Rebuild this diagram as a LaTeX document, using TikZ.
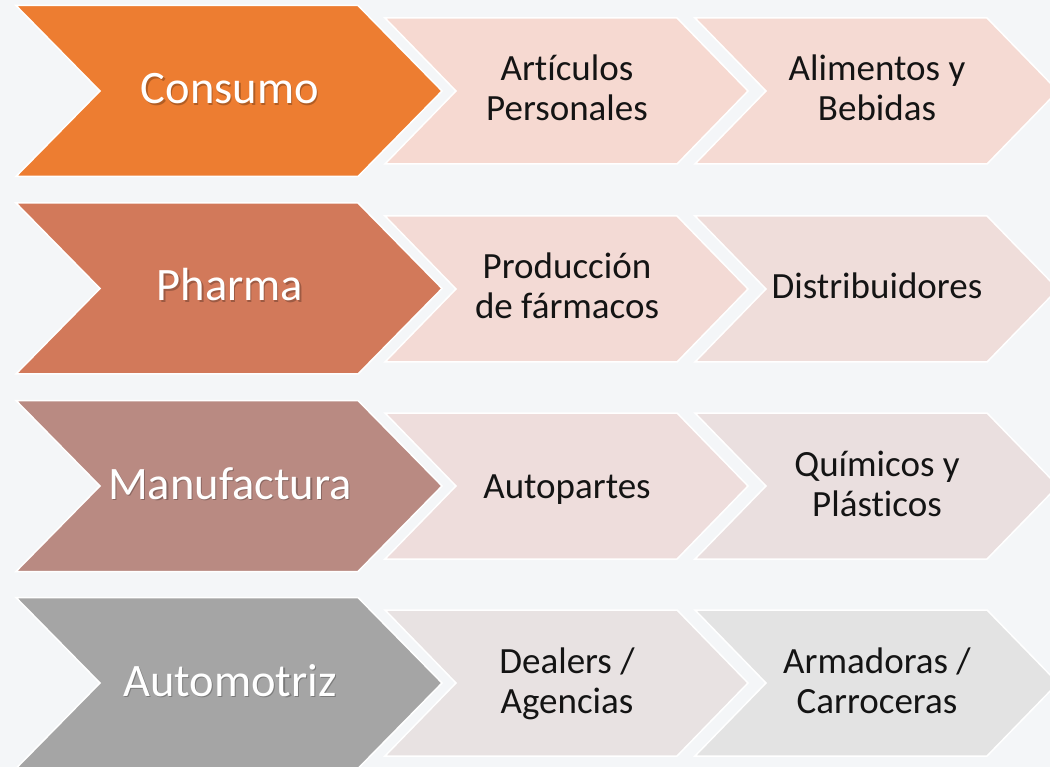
\documentclass[tikz,border=0pt]{standalone}
\usepackage{fontspec}
\setmainfont{Carlito}[Ligatures=NoCommon]
\definecolor{bgc}{HTML}{F4F6F8}
\definecolor{cA}{HTML}{ED7D31}
\definecolor{cB}{HTML}{D2795A}
\definecolor{cC}{HTML}{B98A82}
\definecolor{cD}{HTML}{A5A5A5}
\definecolor{sA1}{HTML}{F6D9D1}
\definecolor{sA2}{HTML}{F5DAD3}
\definecolor{sB1}{HTML}{F3DAD5}
\definecolor{sB2}{HTML}{EFDDDA}
\definecolor{sC1}{HTML}{EEDDDC}
\definecolor{sC2}{HTML}{EADFDF}
\definecolor{sD1}{HTML}{E8E2E2}
\definecolor{sD2}{HTML}{E3E3E3}
\newcommand\chevshape[6]{%
  \fill[#6, draw=white, line width=1.5pt, line join=miter]
    (#1,#2) -- ++(#3,0) -- ++(#5,#4/2) -- ++(-#5,#4/2) -- ++(-#3,0) -- ++(#5,-#4/2) -- cycle;}
\tikzset{
  bigtxt/.style={text=white, font=\fontsize{46.5}{50}\selectfont, inner sep=0pt, anchor=base},
  bigshade/.style={text=black, opacity=0.25, font=\fontsize{46.5}{50}\selectfont, inner sep=0pt, anchor=base},
  smalltxt/.style={text=black!92, font=\fontsize{37}{40}\selectfont, align=center, inner sep=0pt, anchor=base}
}
\begin{document}
\begin{tikzpicture}[x=1pt,y=-1pt]
\useasboundingbox (0,0) rectangle (1050,767);
\clip (0,0) rectangle (1050,767);
\fill[bgc] (0,0) rectangle (1050,767);
% row 1
\chevshape{16}{5.5}{342}{171}{84}{cA}
\chevshape{385}{18}{292}{146}{71}{sA1}
\chevshape{695}{18}{292}{146}{71}{sA2}
% row 2
\chevshape{16}{203}{342}{171}{84}{cB}
\chevshape{385}{216}{292}{146}{71}{sB1}
\chevshape{695}{216}{292}{146}{71}{sB2}
% row 3
\chevshape{16}{400.5}{342}{171}{84}{cC}
\chevshape{385}{413}{292}{146}{71}{sC1}
\chevshape{695}{413}{292}{146}{71}{sC2}
% row 4
\chevshape{16}{597.5}{342}{171}{84}{cD}
\chevshape{385}{610}{292}{146}{71}{sD1}
\chevshape{695}{610}{292}{146}{71}{sD2}
% big labels
\node[bigshade] (s1) at (231.2,105.2) {Consumo};
\node[bigtxt] (t1) at (230,104) {Consumo};
\node[bigshade] (s2) at (231.2,302.2) {Pharma};
\node[bigtxt] (t2) at (230,301) {Pharma};
\node[bigshade] (s3) at (231.2,500.2) {Manufactura};
\node[bigtxt] (t3) at (230,499) {Manufactura};
\node[bigshade] (s4) at (231.2,697.2) {Automotriz};
\node[bigtxt] (t4) at (230,696) {Automotriz};
% small labels
\node[smalltxt] (a1) at (567,121) {Artículos\\Personales};
\node[smalltxt] (a2) at (877,121) {Alimentos y\\Bebidas};
\node[smalltxt] (b1) at (567,319) {Producción\\de fármacos};
\node[smalltxt] (b2) at (877,299) {Distribuidores};
\node[smalltxt] (c1) at (567,498) {Autopartes};
\node[smalltxt] (c2) at (877,516) {Químicos y\\Plásticos};
\node[smalltxt] (d1) at (567,713) {Dealers /\\Agencias};
\node[smalltxt] (d2) at (877,713) {Armadoras /\\Carroceras};
\end{tikzpicture}
\end{document}
